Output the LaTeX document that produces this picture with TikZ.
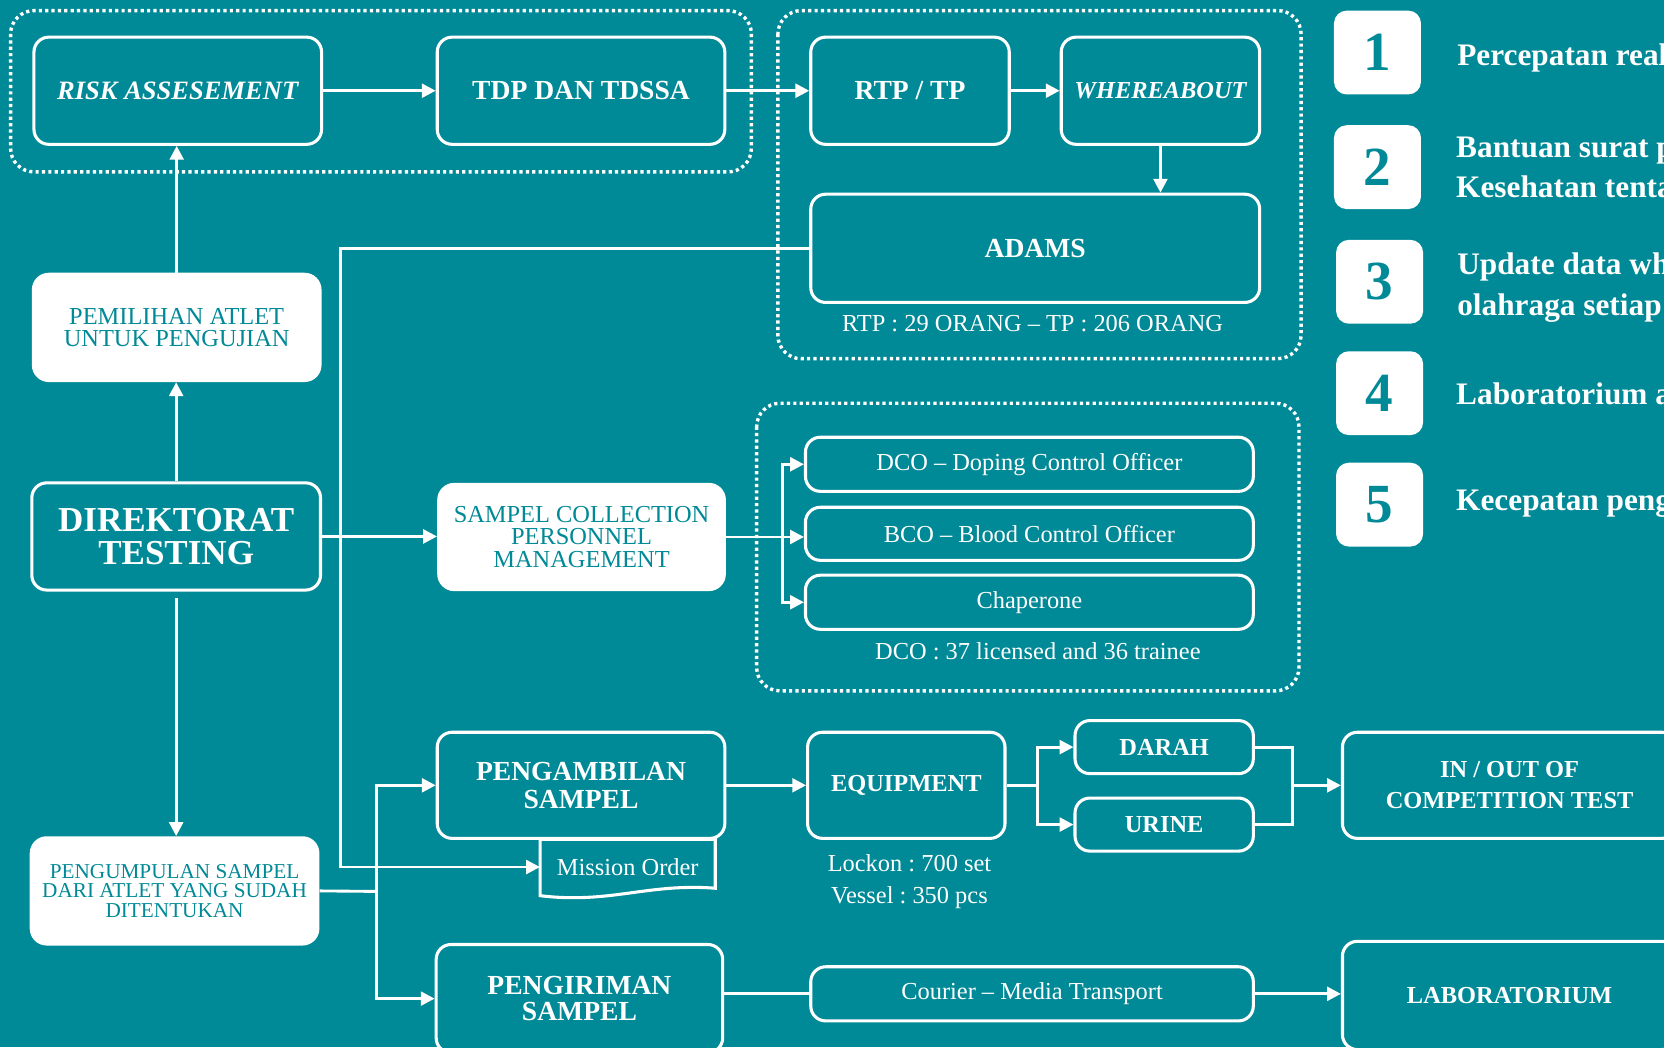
\documentclass[tikz,border=0pt]{standalone}
\usepackage{fontspec}
\setmainfont{Liberation Serif}
\usetikzlibrary{arrows.meta}
\definecolor{tosca}{RGB}{0,137,150}
\newcommand\ukuran[2]{\fontsize{#1}{#2}\selectfont}
\frenchspacing

\begin{document}
\begin{tikzpicture}[x=1pt,y=-1pt,
  kotak/.style={draw=white, line width=2.9pt, rounded corners=14pt, fill=tosca, text=white, align=center, inner sep=0pt},
  putih/.style={fill=white, rounded corners=16pt, text=tosca, align=center, inner sep=0pt},
  panah/.style={draw=white, line width=2.7pt, -{Triangle[length=13pt,width=13pt]}},
  garis/.style={draw=white, line width=2.7pt},
  titik/.style={draw=white, line width=3.2pt, dash pattern=on 3pt off 3pt, rounded corners=22pt},
  catatan/.style={text=white, align=center, font=\ukuran{23}{30}},
  nomor/.style={fill=white, rounded corners=12pt, text=tosca, minimum width=82pt, minimum height=79pt, font=\ukuran{52}{52}\bfseries},
  poin/.style={anchor=west, text=white, align=left, inner sep=0pt, font=\ukuran{29.5}{38}\bfseries}]
\clip (0,0) rectangle (1568,987);
\fill[tosca] (0,0) rectangle (1568,987);

% kelompok bergaris titik
\draw[titik] (10,10) rectangle (708,162);
\draw[titik] (733,10) rectangle (1226,338);
\draw[titik] (713,380) rectangle (1224,651);

% baris atas
\node[kotak, minimum width=271pt, minimum height=101pt, font=\ukuran{25}{25}\bfseries\itshape] (risk) at (167.5,85.5) {RISK ASSESEMENT};
\node[kotak, minimum width=271pt, minimum height=101pt, font=\ukuran{26}{26}\bfseries] (tdp) at (547.5,85.5) {TDP DAN TDSSA};
\node[kotak, minimum width=187pt, minimum height=101pt, font=\ukuran{26}{26}\bfseries] (rtp) at (857.5,85.5) {RTP / TP};
\node[kotak, minimum width=187pt, minimum height=101pt, font=\ukuran{23}{23}\bfseries\itshape] (where) at (1093.5,85.5) {WHEREABOUT};
\node[kotak, minimum width=423pt, minimum height=102pt, font=\ukuran{26}{26}\bfseries] (adams) at (975.5,234) {ADAMS};
\node[catatan] (rtpket) at (973,305) {RTP : 29 ORANG – TP : 206 ORANG};

% kolom kiri
\node[putih, minimum width=273pt, minimum height=103pt, font=\ukuran{23}{21}] (pemilihan) at (166.5,308.5) {PEMILIHAN ATLET\\UNTUK PENGUJIAN};
\node[kotak, minimum width=272pt, minimum height=101pt, font=\ukuran{33}{31}\bfseries] (direktorat) at (166,505.5) {DIREKTORAT\\TESTING};
\node[putih, minimum width=273pt, minimum height=103pt, font=\ukuran{20}{18.5}] (pengumpulan) at (164.5,839.5) {PENGUMPULAN SAMPEL\\DARI ATLET YANG SUDAH\\DITENTUKAN};

% personel
\node[putih, minimum width=272pt, minimum height=102pt, font=\ukuran{23}{21}] (scpm) at (548,506) {SAMPEL COLLECTION\\PERSONNEL\\MANAGEMENT};
\node[kotak, minimum width=422pt, minimum height=51pt, font=\ukuran{23}{23}] (dco) at (970,437.5) {DCO – Doping Control Officer};
\node[kotak, minimum width=422pt, minimum height=50pt, font=\ukuran{23}{23}] (bco) at (970,503) {BCO – Blood Control Officer};
\node[kotak, minimum width=422pt, minimum height=51pt, font=\ukuran{23}{23}] (chap) at (970,567.5) {Chaperone};
\node[catatan] (dcoket) at (978,614) {DCO : 37 licensed and 36 trainee};

% pengambilan
\node[kotak, minimum width=271pt, minimum height=100pt, font=\ukuran{26}{26}\bfseries] (pengambilan) at (547.5,740) {PENGAMBILAN\\SAMPEL};
\draw[white, line width=2.9pt, fill=tosca] (509,791) -- (674,791) -- (674,837)
  .. controls (610,832) and (575,852) .. (509,844) -- cycle;
\node[text=white, minimum width=165pt, minimum height=53pt, inner sep=0pt, font=\ukuran{23}{23}] (mission) at (591.5,817) {Mission Order};
\node[kotak, minimum width=186pt, minimum height=100pt, font=\ukuran{23}{23}\bfseries] (equip) at (854,740) {EQUIPMENT};
\node[catatan] (alat) at (857,831) {Lockon : 700 set\\Vessel : 350 pcs};
\node[kotak, minimum width=168pt, minimum height=50pt, font=\ukuran{23}{23}\bfseries] (darah) at (1097,704) {DARAH};
\node[kotak, minimum width=168pt, minimum height=50pt, font=\ukuran{23}{23}\bfseries] (urine) at (1097,777) {URINE};
\node[kotak, minimum width=315pt, minimum height=100pt, font=\ukuran{23}{29}\bfseries] (inout) at (1422.5,740) {IN / OUT OF\\COMPETITION TEST};

% pengiriman
\node[kotak, minimum width=270pt, minimum height=102pt, font=\ukuran{26}{25}\bfseries] (pengiriman) at (546,941) {PENGIRIMAN\\SAMPEL};
\node[kotak, minimum width=417pt, minimum height=51pt, font=\ukuran{23}{23}] (courier) at (972.5,936.5) {Courier – Media Transport};
\node[kotak, minimum width=315pt, minimum height=102pt, font=\ukuran{23}{23}\bfseries] (lab) at (1422.5,938) {LABORATORIUM};

% daftar nomor
\foreach \n/\x/\y in {1/1298/49.5, 2/1298/157.5, 3/1300/265.5, 4/1300/370.5, 5/1300/475.5}
  \node[nomor] (n\n) at (\x,\y) {\n};
\node[poin] (p1) at (1373,55) {Percepatan real};
\node[poin] (p2) at (1372,157.5) {Bantuan surat p\\Kesehatan tenta};
\node[poin] (p3) at (1373,271) {Update data wh\\olahraga setiap};
\node[poin] (p4) at (1372,371) {Laboratorium a};
\node[poin] (p5) at (1372,475) {Kecepatan peng};

% penghubung
\coordinate (belok) at (321,234);
\coordinate (cabang) at (737,506);
\coordinate (bagi) at (355,840);
\coordinate (cabangalat) at (978,740);
\coordinate (gabung) at (1218,740);

\draw[panah] (risk) -- (tdp);
\draw[panah] (tdp) -- (rtp);
\draw[panah] (rtp) -- (where);
\draw[panah] (where.south) -- (where.south |- adams.north);
\draw[panah] (pemilihan.north) -- (pemilihan.north |- risk.south);
\draw[panah] (direktorat.north) -- (direktorat.north |- pemilihan.south);
\draw[panah, shorten <=6pt] (direktorat.south) -- (direktorat.south |- pengumpulan.north);
\draw[panah] (adams.west) -- (belok) |- (mission.west);
\draw[panah] (direktorat.east) -- (direktorat.east -| scpm.west);
\draw[garis] (scpm.east) -- (cabang);
\draw[panah] (cabang) |- (dco.west);
\draw[panah] (cabang) -- (cabang -| bco.west);
\draw[panah] (cabang) |- (chap.west);
\draw[garis] (pengumpulan.east) -- (bagi);
\draw[panah] (bagi) |- (pengambilan.west);
\draw[panah] (bagi) |- (pengiriman.west);
\draw[panah] (pengambilan) -- (equip);
\draw[garis] (equip.east) -- (cabangalat);
\draw[panah] (cabangalat) |- (darah.west);
\draw[panah] (cabangalat) |- (urine.west);
\draw[garis] (darah.east) -| (gabung) |- (urine.east);
\draw[panah] (gabung) -- (inout.west);
\draw[garis] (courier.west -| pengiriman.east) -- (courier.west);
\draw[panah] (courier.east) -- (courier.east -| lab.west);
\end{tikzpicture}
\end{document}
